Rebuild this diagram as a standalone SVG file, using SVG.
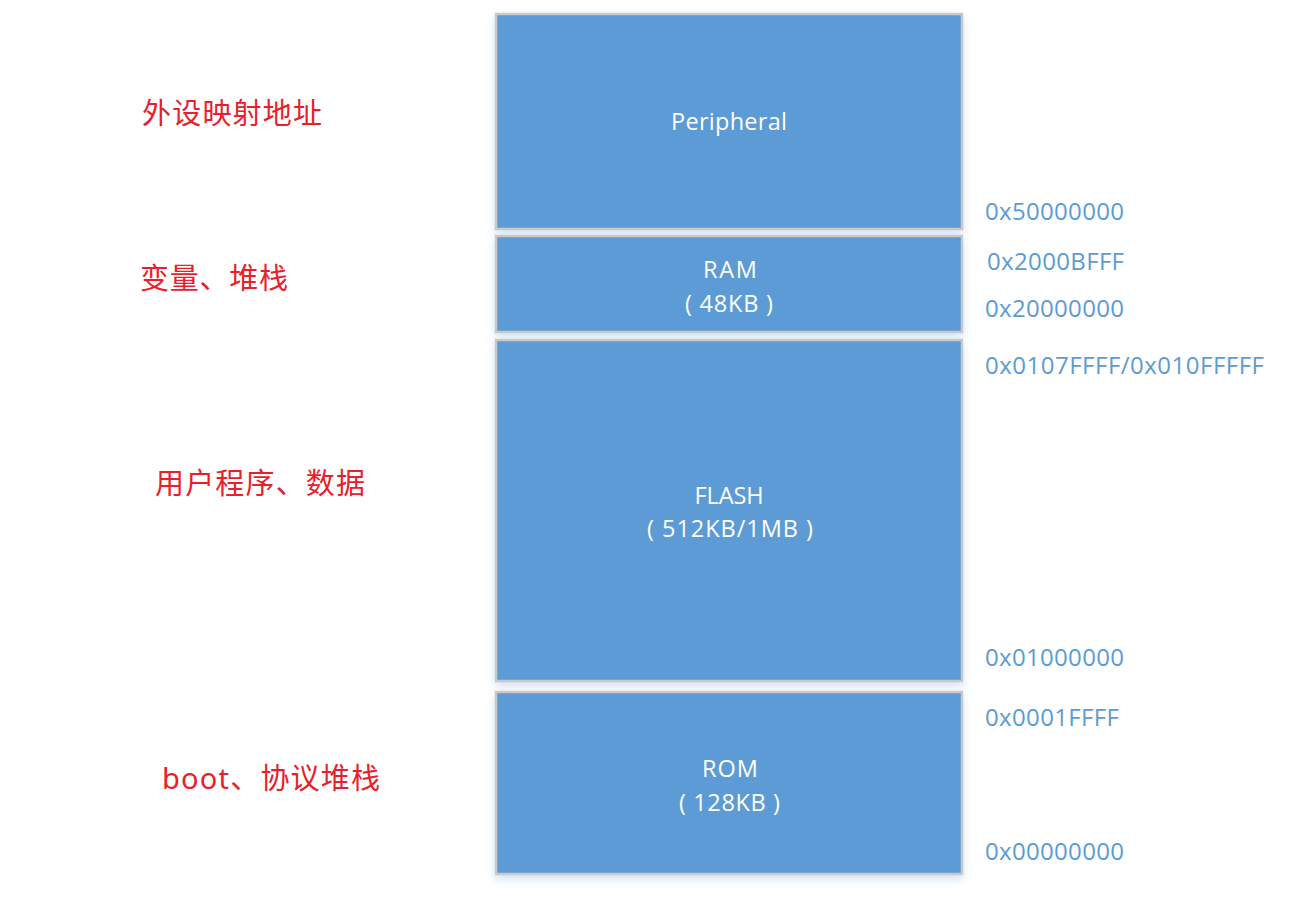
<svg xmlns="http://www.w3.org/2000/svg" width="1315" height="916" viewBox="0 0 1315 916">
<defs>
<filter id="glow" x="-5%" y="-10%" width="110%" height="125%">
<feGaussianBlur in="SourceAlpha" stdDeviation="4"/>
<feOffset dx="0" dy="4" result="b"/>
<feFlood flood-color="#b8cfe8" flood-opacity="0.6"/>
<feComposite in2="b" operator="in"/>
<feMerge><feMergeNode/><feMergeNode in="SourceGraphic"/></feMerge>
</filter>
<style>
.box{fill:#5b9bd5;stroke:#c9c9c9;stroke-width:2.5;filter:url(#glow)}
.bt{fill:#ffffff;font-family:"Open Sans","Noto Sans",sans-serif;font-size:23.5px;text-anchor:middle}
.addr{fill:#5b9bd5;font-family:"Open Sans","Noto Sans",sans-serif;font-size:24px}
.lab{fill:#e8202a;font-family:"Noto Sans","Noto Sans CJK SC",sans-serif;font-size:29px}
</style>
</defs>
<rect width="1315" height="916" fill="#ffffff"/>
<g id="peripheral">
<rect class="box" x="496" y="14" width="466" height="215"/>
<text class="bt" x="729" y="130" textLength="116">Peripheral</text>
</g>
<g id="ram">
<rect class="box" x="496" y="236" width="466" height="96"/>
<text class="bt" x="730" y="278" textLength="54">RAM</text>
<text class="bt" x="729" y="312" textLength="88">( 48KB )</text>
</g>
<g id="flash">
<rect class="box" x="496" y="340" width="466" height="341"/>
<text class="bt" x="729" y="504" textLength="69">FLASH</text>
<text class="bt" x="730" y="537" textLength="166">( 512KB/1MB )</text>
</g>
<g id="rom">
<rect class="box" x="496" y="692" width="466" height="182"/>
<text class="bt" x="730" y="777" textLength="56">ROM</text>
<text class="bt" x="729.5" y="811" textLength="101">( 128KB )</text>
</g>
<g id="addresses">
<text class="addr" x="985" y="220" textLength="139">0x50000000</text>
<text class="addr" x="987" y="270" textLength="137">0x2000BFFF</text>
<text class="addr" x="985" y="317" textLength="139">0x20000000</text>
<text class="addr" x="985" y="374" textLength="279">0x0107FFFF/0x010FFFFF</text>
<text class="addr" x="985" y="666" textLength="139">0x01000000</text>
<text class="addr" x="985" y="726" textLength="134">0x0001FFFF</text>
<text class="addr" x="985" y="860" textLength="139">0x00000000</text>
</g>
<g id="labels">
<text class="lab" x="142" y="124" textLength="180">外设映射地址</text>
<text class="lab" x="140" y="289" textLength="148">变量、堆栈</text>
<text class="lab" x="155" y="494" textLength="210">用户程序、数据</text>
<text class="lab" x="162" y="789" textLength="218">boot、协议堆栈</text>
</g>
<g id="connectors"></g>
</svg>
